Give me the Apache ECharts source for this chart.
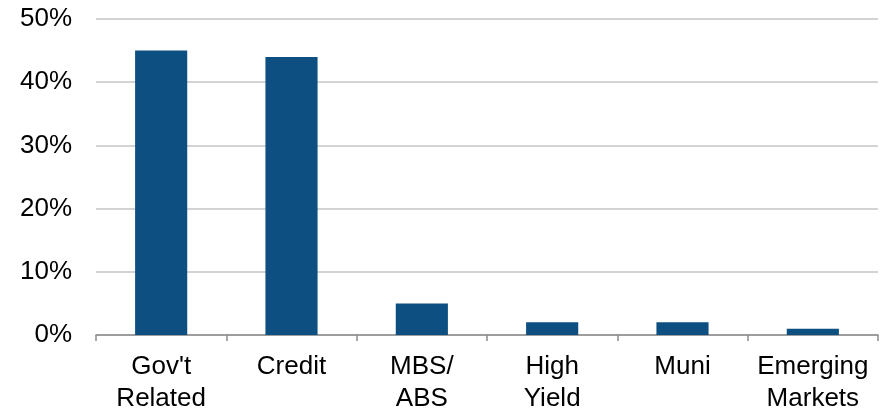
<!DOCTYPE html>
<html><head><meta charset="utf-8">
<script src="https://cdn.jsdelivr.net/npm/echarts@6/dist/echarts.min.js"></script>
<style>html,body{margin:0;padding:0;background:#fff}#c{width:887px;height:413px}</style>
</head><body><div id="c"></div>
<script>
const categories = ["Gov't\nRelated", "Credit", "MBS/\nABS", "High\nYield", "Muni", "Emerging\nMarkets"];
const values = [45, 44, 5, 2, 2, 1];
const yTicks = [0, 10, 20, 30, 40, 50];

const chart = echarts.init(document.getElementById('c'), null, {renderer: 'canvas'});
chart.setOption({
  animation: false,
  grid: {left: 96, right: 9, top: 19, bottom: 78, outerBoundsMode: 'none', containLabel: false},
  xAxis: {
    type: 'category', data: categories,
    axisLine: {lineStyle: {color: '#8c8c8c', width: 1.5}},
    axisTick: {show: true, length: 6, lineStyle: {color: '#8c8c8c', width: 1.5}},
    axisLabel: {color: '#000', fontFamily: 'Liberation Sans', fontSize: 26, lineHeight: 32, margin: 16, interval: 0}
  },
  yAxis: {
    type: 'value', min: 0, max: 50, interval: 10,
    axisLine: {show: false}, axisTick: {show: false},
    splitLine: {lineStyle: {color: '#c4c4c4', width: 1.5}},
    axisLabel: {color: '#000', fontFamily: 'Liberation Sans', fontSize: 26, margin: 24,
      formatter: v => yTicks.includes(v) ? v + '%' : ''}
  },
  series: [{
    type: 'bar', data: values, barWidth: '40%',
    itemStyle: {color: '#0d4f81'}
  }]
});
</script></body></html>
